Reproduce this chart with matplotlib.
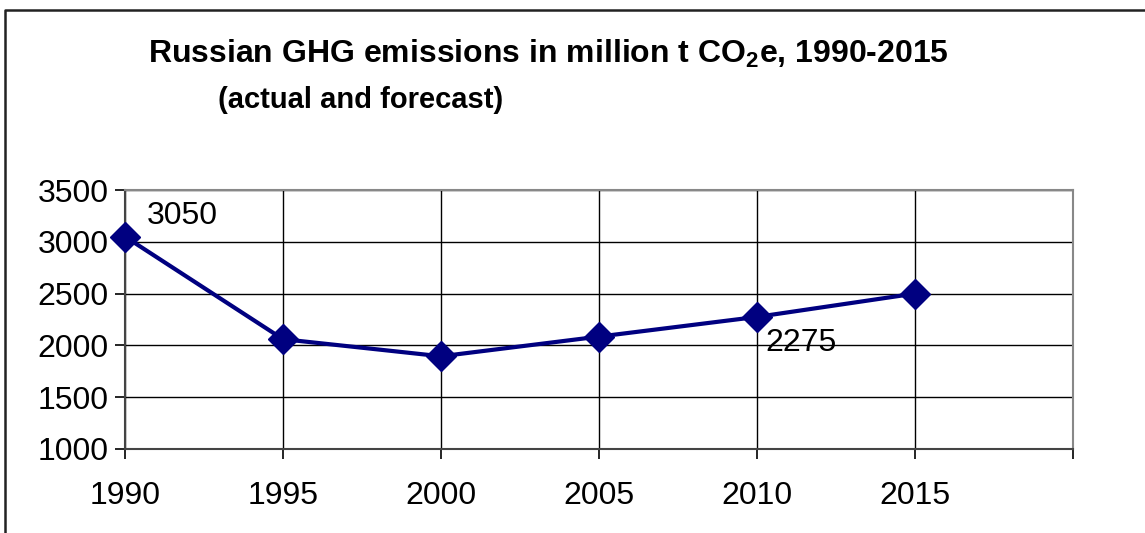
import matplotlib.pyplot as plt
from matplotlib.lines import Line2D

plt.rcParams['font.family'] = ['Liberation Sans', 'DejaVu Sans']
plt.rcParams['mathtext.fontset'] = 'custom'
plt.rcParams['mathtext.bf'] = 'Liberation Sans:bold'

# data
years = [1990, 1995, 2000, 2005, 2010, 2015]
emissions = [3050, 2060, 1895, 2085, 2275, 2500]
labels = {1990: '3050', 2010: '2275'}

fig = plt.figure(figsize=(11.45, 5.33), dpi=100)
ax = fig.add_axes([125 / 1145, 1 - 449 / 533, (1073 - 125) / 1145, (449 - 190) / 533])

# outer frame of the chart area (left and top edges visible)
fx, fy = 5 / 1145, 1 - 10 / 533
fig.add_artist(Line2D([fx, fx, 1.0], [0.0, fy, fy], transform=fig.transFigure,
                      color='#222222', linewidth=1.8))

ax.plot(years, emissions, color='#000080', linewidth=3, marker='D',
        markersize=15, zorder=3, clip_on=False)

ax.set_xlim(1990, 2020)
ax.set_ylim(1000, 3500)
ax.set_xticks(range(1990, 2021, 5))
ax.set_xticklabels([str(y) for y in range(1990, 2016, 5)] + [''])
ax.set_yticks(range(1000, 3501, 500))

ax.grid(True, color='black', linewidth=1)
for s in ax.spines.values():
    s.set_color('#888888')
    s.set_linewidth(1.5)
ax.spines['bottom'].set_color('#444444')
ax.spines['left'].set_color('#444444')
ax.tick_params(axis='both', labelsize=23, direction='out', length=7,
               width=1.2, color='black')
ax.tick_params(axis='x', pad=16)
ax.tick_params(axis='y', pad=5)

ax.annotate(labels[1990], (1990, 3050), xytext=(22, 21), textcoords='offset pixels',
            fontsize=23, va='center', ha='left')
ax.annotate(labels[2010], (2010, 2275), xytext=(8, -26), textcoords='offset pixels',
            fontsize=23, va='center', ha='left')

fig.text(148 / 1145, 1 - 54 / 533,
         'Russian GHG emissions in million t CO$_\\mathbf{2}$e, 1990-2015',
         fontsize=23, fontweight='bold', ha='left', va='center')
fig.text(218 / 1145, 1 - 100 / 533, '(actual and forecast)',
         fontsize=21, fontweight='bold', ha='left', va='center')

fig.savefig('out.png', dpi=100)
